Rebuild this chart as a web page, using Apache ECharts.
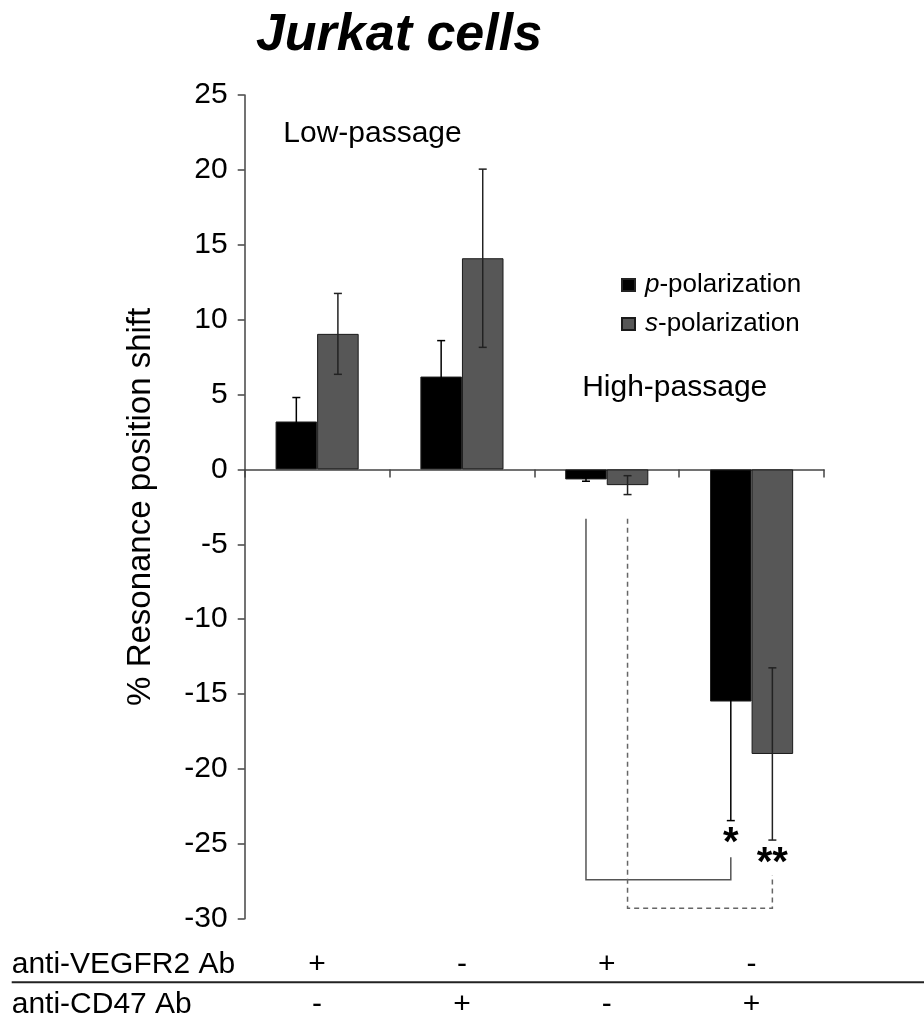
<!DOCTYPE html>
<html>
<head>
<meta charset="utf-8">
<title>Jurkat cells</title>
<script src="https://cdn.jsdelivr.net/npm/echarts@6/dist/echarts.min.js"></script>
<style>
  html, body { margin: 0; padding: 0; background: #fff; }
  #chart { width: 924px; height: 1021px; }
</style>
</head>
<body>
<div id="chart"></div>
<script>
// Treatment groups (low-passage pair, then high-passage pair)
const categories = ['Low VEGFR2', 'Low CD47', 'High VEGFR2', 'High CD47'];

// % resonance position shift, mean and error
const pPolarization = [3.2, 6.2, -0.67, -15.5];
const pError = [1.6, 2.4, 0.12, 7.95];
const sPolarization = [9.05, 14.1, -1.05, -19.0];
const sError = [2.7, 5.95, 0.63, 5.75];

// Value axis range and tick step
const yMin = -30;
const yMax = 25;
const yStep = 5;

// Antibody treatment table under the plot
const vegfr2Row = ['+', '-', '+', '-'];
const cd47Row = ['-', '+', '-', '+'];

// Significance brackets: from/to group index, bar slot (0 = p, 1 = s),
// vertical levels in axis units and the star label
const brackets = [
  { from: 2, to: 3, slot: 0, start: -3.3, low: -27.4, end: -25.9, mark: '*', markAt: -25.0, dashed: false },
  { from: 2, to: 3, slot: 1, start: -3.3, low: -29.3, end: -27.1, mark: '**', markAt: -26.35, dashed: true }
];

const FONT = "'Liberation Sans', Arial, sans-serif";
const BAR_FRAC = 0.287; // fraction of a category band taken by one bar

const chart = echarts.init(document.getElementById('chart'), null, { renderer: 'canvas' });

function slotOffset(api, slot) {
  const band = api.size([1, 0])[0];
  return (slot === 0 ? -1 : 1) * band * BAR_FRAC / 2;
}

function errorRenderer(slot, color) {
  return function (params, api) {
    const cat = api.value(0);
    const v = api.value(1);
    const e = api.value(2);
    const dx = slotOffset(api, slot);
    const hi = api.coord([cat, v + e]);
    const lo = api.coord([cat, v - e]);
    const x = hi[0] + dx;
    const cap = 4;
    const style = { stroke: color, lineWidth: 1.5 };
    return {
      type: 'group',
      children: [
        { type: 'line', shape: { x1: x, y1: hi[1], x2: x, y2: lo[1] }, style },
        { type: 'line', shape: { x1: x - cap, y1: hi[1], x2: x + cap, y2: hi[1] }, style },
        { type: 'line', shape: { x1: x - cap, y1: lo[1], x2: x + cap, y2: lo[1] }, style }
      ]
    };
  };
}

function bracketRenderer(params, api) {
  const b = brackets[params.dataIndex];
  const dx = slotOffset(api, b.slot);
  const a0 = api.coord([b.from, b.start]);
  const a1 = api.coord([b.from, b.low]);
  const c1 = api.coord([b.to, b.low]);
  const c0 = api.coord([b.to, b.end]);
  const m = api.coord([b.to, b.markAt]);
  return {
    type: 'group',
    children: [
      {
        type: 'polyline',
        shape: { points: [[a0[0] + dx, a0[1]], [a1[0] + dx, a1[1]], [c1[0] + dx, c1[1]], [c0[0] + dx, c0[1]]] },
        style: {
          stroke: b.dashed ? '#666' : '#555',
          lineWidth: 1.5,
          fill: null,
          lineDash: b.dashed ? [5, 4] : null
        }
      },
      {
        type: 'text',
        style: {
          text: b.mark,
          x: m[0] + dx,
          y: m[1],
          align: 'center',
          verticalAlign: 'middle',
          font: 'bold 40px ' + FONT,
          fill: '#000'
        }
      }
    ]
  };
}

const option = {
  backgroundColor: '#fff',
  animation: false,
  textStyle: { fontFamily: FONT },
  grid: { left: 244.7, right: 100, top: 95, bottom: 102.3, containLabel: false },
  legend: {
    orient: 'vertical',
    left: 616,
    top: 267,
    itemWidth: 13,
    itemHeight: 12,
    itemGap: 13,
    icon: 'rect',
    data: ['p-polarization', 's-polarization'],
    formatter: function (name) {
      const parts = name.split('-');
      return '{i|' + parts[0] + '}{n|-' + parts.slice(1).join('-') + '}';
    },
    textStyle: {
      rich: {
        i: { fontFamily: FONT, fontSize: 26, fontStyle: 'italic', color: '#000', lineHeight: 29, padding: [0, 0, 0, 5] },
        n: { fontFamily: FONT, fontSize: 26, color: '#000', lineHeight: 29 }
      }
    }
  },
  xAxis: [
    {
      type: 'category',
      data: categories,
      boundaryGap: true,
      axisLine: { onZero: true, lineStyle: { color: '#444', width: 1.5 } },
      axisTick: { show: true, length: 8, lineStyle: { color: '#444', width: 1.5 } },
      axisLabel: { show: false },
      splitLine: { show: false }
    },
    {
      type: 'category',
      data: vegfr2Row,
      position: 'bottom',
      offset: 45.8,
      axisLine: { show: false, onZero: false },
      axisTick: { show: false },
      axisLabel: { margin: 0, verticalAlign: 'middle', fontSize: 30, fontFamily: FONT, color: '#000' }
    },
    {
      type: 'category',
      data: cd47Row,
      position: 'bottom',
      offset: 85.8,
      axisLine: { show: false, onZero: false },
      axisTick: { show: false },
      axisLabel: { margin: 0, verticalAlign: 'middle', fontSize: 30, fontFamily: FONT, color: '#000' }
    }
  ],
  yAxis: {
    type: 'value',
    min: yMin,
    max: yMax,
    interval: yStep,
    name: '% Resonance position shift',
    nameLocation: 'middle',
    nameRotate: 90,
    nameGap: 87,
    nameTextStyle: { fontSize: 33, fontFamily: FONT, color: '#000' },
    axisLine: { show: true, lineStyle: { color: '#444', width: 1.5 } },
    axisTick: { show: true, length: 7, lineStyle: { color: '#444', width: 1.5 } },
    axisLabel: { margin: 17, fontSize: 30, fontFamily: FONT, color: '#000' },
    splitLine: { show: false }
  },
  series: [
    {
      name: 'p-polarization',
      type: 'bar',
      data: pPolarization,
      barWidth: (BAR_FRAC * 100) + '%',
      barGap: '0%',
      itemStyle: { color: '#000', borderColor: '#222', borderWidth: 1 }
    },
    {
      name: 's-polarization',
      type: 'bar',
      data: sPolarization,
      barWidth: (BAR_FRAC * 100) + '%',
      barGap: '0%',
      itemStyle: { color: '#575757', borderColor: '#1a1a1a', borderWidth: 1 }
    },
    {
      name: 'p error',
      type: 'custom',
      renderItem: errorRenderer(0, '#000'),
      data: pPolarization.map((v, i) => [i, v, pError[i]]),
      encode: { x: 0, y: 1 },
      z: 5,
      silent: true
    },
    {
      name: 's error',
      type: 'custom',
      renderItem: errorRenderer(1, '#222'),
      data: sPolarization.map((v, i) => [i, v, sError[i]]),
      encode: { x: 0, y: 1 },
      z: 5,
      silent: true
    },
    {
      name: 'significance',
      type: 'custom',
      renderItem: bracketRenderer,
      data: brackets.map(b => [b.from, b.start]),
      encode: { x: 0, y: 1 },
      z: 4,
      silent: true
    }
  ],
  graphic: [
    {
      type: 'text',
      x: 399,
      y: 35.5,
      style: {
        text: 'Jurkat cells',
        font: 'italic bold 52px ' + FONT,
        fill: '#000',
        align: 'center',
        verticalAlign: 'middle'
      }
    },
    {
      type: 'text',
      x: 11.7,
      y: 964.5,
      style: { text: 'anti-VEGFR2 Ab', font: '30px ' + FONT, fill: '#000', align: 'left', verticalAlign: 'middle' }
    },
    {
      type: 'text',
      x: 11.7,
      y: 1004.5,
      style: { text: 'anti-CD47 Ab', font: '30px ' + FONT, fill: '#000', align: 'left', verticalAlign: 'middle' }
    },
    {
      type: 'line',
      shape: { x1: 11.7, y1: 982.3, x2: 924, y2: 982.3 },
      style: { stroke: '#222', lineWidth: 2 }
    },
    {
      type: 'text',
      x: 372.5,
      y: 134,
      style: { text: 'Low-passage', font: '30px ' + FONT, fill: '#000', align: 'center', verticalAlign: 'middle' }
    },
    {
      type: 'text',
      x: 674.7,
      y: 387.5,
      style: { text: 'High-passage', font: '30px ' + FONT, fill: '#000', align: 'center', verticalAlign: 'middle' }
    }
  ]
};

chart.setOption(option);
</script>
</body>
</html>
